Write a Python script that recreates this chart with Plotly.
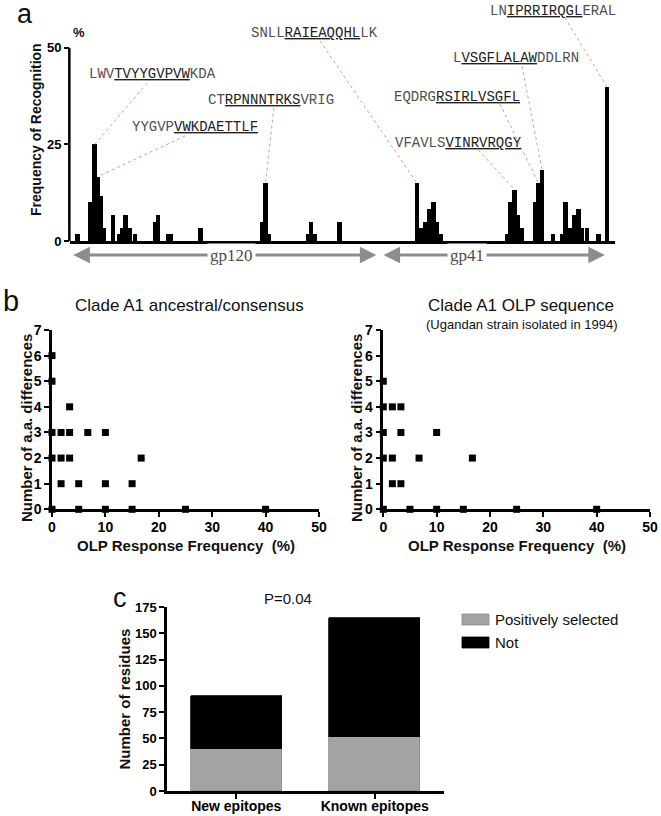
import plotly.graph_objects as go

W, H = 661, 816

# ---------------- Panel a: OLP recognition frequency along Env ----------------
olp_pos = [12, 32, 39, 44, 49, 53, 68, 78, 83, 88, 94, 103, 134, 139, 155, 160, 206,
           303, 309, 314, 376, 381, 387, 426,
           548, 555, 561, 567, 574, 580, 585, 690, 696, 702, 707, 713, 735, 740, 746,
           763, 777, 783, 789, 797, 803, 809, 817, 835, 848]
olp_freq = [1.7, 10, 25, 16.7, 11.7, 3.3, 6.7, 1.7, 3.3, 6.7, 3.3, 1.7, 5, 6.7, 1.7, 1.7, 3.3,
            5, 15, 1.7, 1.7, 5, 1.7, 5,
            15, 3.3, 5, 8.3, 10, 5, 1.7, 1.7, 10, 13.3, 6.7, 3.3, 10, 15, 18.3,
            1.7, 1.7, 10, 3.3, 6.7, 8.3, 3.3, 3.3, 1.7, 40]

# epitope labels: (prefix, underlined, suffix), target OLP position
epi_pre = ["LWV", "YYGVP", "CT", "SNLL", "LN", "L", "EQDRG", "VFAVLS"]
epi_core = ["TVYYGVPVW", "VWKDAETTLF", "RPNNNTRKS", "RAIEAQQHL", "IPRRIRQGL",
            "VSGFLALAW", "RSIRLVSGFL", "VINRVRQGY"]
epi_post = ["KDA", "", "VRIG", "LK", "ERAL", "DDLRN", "", ""]
epi_target = [39, 44, 309, 548, 848, 746, 740, 702]
# label placement (layout positions, in axis units)
lab_x = [131, 197.5, 317.6, 385.5, 763, 705, 611.5, 613]
lab_y = [43.3, 29.5, 36.5, 53.9, 59.6, 47.4, 37.3, 25.4]
lead_x = [122, 182, 322, 395, 782, 714, 679, 645]
lead_y = [40.9, 27.2, 34.5, 51.8, 57.8, 45.3, 35.5, 23.6]

# ---------------- Panel b ----------------
anc_freq = [0, 0, 3.3, 0, 1.7, 3.3, 6.7, 10, 0, 1.7, 3.3, 16.7, 1.7, 5, 10, 15, 0, 5, 10, 15, 25, 40]
anc_diff = [6, 5, 4, 3, 3, 3, 3, 3, 2, 2, 2, 2, 1, 1, 1, 1, 0, 0, 0, 0, 0, 0]
seq_freq = [0, 0, 1.7, 3.3, 0, 3.3, 10, 0, 1.7, 6.7, 16.7, 1.7, 3.3, 0, 5, 10, 15, 25, 40]
seq_diff = [5, 4, 4, 4, 3, 3, 3, 2, 2, 2, 2, 1, 1, 0, 0, 0, 0, 0, 0]

# ---------------- Panel c ----------------
groups = ["New epitopes", "Known epitopes"]
pos_sel = [40, 51]
not_sel = [50, 114]

GRAY = "#a3a3a6"
SANS = "Liberation Sans, Arial, sans-serif"
MONO = "Liberation Mono, Courier New, monospace"
SERIF = "Liberation Serif, Times New Roman, serif"


def px(x):
    return x / W


def py(y):
    return 1 - y / H


fig = go.Figure()
fig.add_trace(go.Bar(x=olp_pos, y=olp_freq, width=7, marker=dict(color="black", line=dict(width=0)),
                     xaxis="x", yaxis="y", showlegend=False))
fig.add_trace(go.Scatter(x=anc_freq, y=anc_diff, mode="markers", cliponaxis=False,
                         marker=dict(symbol="square", size=7, color="black"),
                         xaxis="x2", yaxis="y2", showlegend=False))
fig.add_trace(go.Scatter(x=seq_freq, y=seq_diff, mode="markers", cliponaxis=False,
                         marker=dict(symbol="square", size=7, color="black"),
                         xaxis="x3", yaxis="y3", showlegend=False))
fig.add_trace(go.Bar(x=groups, y=pos_sel, name="Positively selected", width=0.66,
                     marker=dict(color=GRAY, line=dict(color="#8a8a8a", width=0.8)),
                     xaxis="x4", yaxis="y4", showlegend=False))
fig.add_trace(go.Bar(x=groups, y=not_sel, name="Not", width=0.66,
                     marker=dict(color="black", line=dict(color="black", width=0.8)),
                     xaxis="x4", yaxis="y4", showlegend=False))

tickfont13 = dict(family=SANS, size=13, color="black", weight="bold")
tickfont14 = dict(family=SANS, size=14, color="black", weight="bold")
common = dict(showgrid=False, zeroline=False, linecolor="black", tickcolor="black")

layout = dict(
    width=W, height=H, autosize=False,
    margin=dict(l=0, r=0, t=0, b=0, pad=0, autoexpand=False),
    paper_bgcolor="white", plot_bgcolor="white",
    barmode="stack", bargap=0,
    xaxis=dict(domain=[px(70), px(615)], range=[0, 861], showline=True, linewidth=2.5,
               showticklabels=False, ticks="", anchor="y", **common),
    yaxis=dict(domain=[py(241), 1], range=[0, 62.4], showline=False, ticks="outside",
               tickvals=[0, 25, 50], ticklen=5, tickwidth=2, tickfont=tickfont13, anchor="x", **common),
    xaxis2=dict(domain=[px(52), px(319)], range=[0, 50], tickvals=[0, 10, 20, 30, 40, 50],
                ticks="outside", ticklen=5, tickwidth=2, showline=True, linewidth=2.5,
                tickfont=tickfont14, anchor="y2", ticklabelstandoff=-2, **common),
    yaxis2=dict(domain=[py(509.3), py(330)], range=[0, 7], dtick=1, ticks="outside", ticklen=5,
                tickwidth=2, showline=True, linewidth=2.5, tickfont=tickfont14, anchor="x2", **common),
    xaxis3=dict(domain=[px(383.3), px(650)], range=[0, 50], tickvals=[0, 10, 20, 30, 40, 50],
                ticks="outside", ticklen=5, tickwidth=2, showline=True, linewidth=2.5,
                tickfont=tickfont14, anchor="y3", ticklabelstandoff=-2, **common),
    yaxis3=dict(domain=[py(509.3), py(330)], range=[0, 7], dtick=1, ticks="outside", ticklen=5,
                tickwidth=2, showline=True, linewidth=2.5, tickfont=tickfont14, anchor="x3", **common),
    xaxis4=dict(domain=[px(167), px(444)], range=[-0.5, 1.5], ticks="outside", ticklen=5,
                tickwidth=2, showline=True, linewidth=2.5, tickfont=tickfont14, anchor="y4",
                ticklabelstandoff=-5, **common),
    yaxis4=dict(domain=[py(791), py(607)], range=[0, 175], dtick=25, ticks="outside", ticklen=5,
                tickwidth=2, showline=True, linewidth=2.5, tickfont=tickfont13, anchor="x4", **common),
)
fig.update_layout(**layout)

shapes = []
annotations = []


def note(x, y, text, size, bold=False, angle=0, xanchor="center", color="#111", family=SANS):
    f = dict(family=family, size=size, color=color)
    if bold:
        f["weight"] = "bold"
    return dict(x=px(x), y=py(y), xref="paper", yref="paper", text=text, showarrow=False,
                textangle=angle, xanchor=xanchor, yanchor="middle", font=f)


# y-axis line of panel a (0 to 50 only)
shapes.append(dict(type="line", xref="paper", yref="y", x0=px(70) - 0.001, x1=px(70) - 0.001,
                   y0=-0.6, y1=50, line=dict(color="black", width=2.5)))

freq_at = dict(zip(olp_pos, olp_freq))
for i in range(len(epi_core)):
    tgt = epi_target[i]
    shapes.append(dict(type="line", xref="x", yref="y", x0=lead_x[i], y0=lead_y[i],
                       x1=tgt, y1=freq_at[tgt], line=dict(color="#dc9a9a", width=1, dash="dot")))
    txt = (epi_pre[i] + "<span style='color:#222'><u>" + epi_core[i] + "</u></span>"
           + epi_post[i])
    annotations.append(dict(x=lab_x[i], y=lab_y[i], xref="x", yref="y", text=txt, showarrow=False,
                            font=dict(family=MONO, size=14, color="#505050"),
                            xanchor="center", yanchor="middle"))

# gp120 / gp41 arrows
for (a0, a1, lab, lx) in [(3, 484, "gp120", 255.5), (493, 845, "gp41", 627)]:
    annotations.append(dict(x=a1, y=py(255), xref="x", yref="paper", ax=a0, ay=0,
                            axref="x", ayref="pixel", text="", showarrow=True, arrowhead=2,
                            arrowside="end+start", arrowwidth=3, arrowsize=1.1,
                            arrowcolor="#8c8c8c", standoff=0, startstandoff=0))
    annotations.append(dict(x=lx, y=py(255), xref="x", yref="paper", text=lab, showarrow=False,
                            bgcolor="white", borderpad=2, xanchor="center", yanchor="middle",
                            font=dict(family=SERIF, size=17, color="#4d4d4d")))

# panel a texts
annotations += [
    note(25, 14, "a", 27),
    note(79, 33, "%", 13, bold=True),
    note(36, 130, "Frequency of Recognition", 14, bold=True, angle=-90),
]

# panel b texts
annotations += [
    note(10.5, 301, "b", 29),
    note(189.5, 305, "Clade A1 ancestral/consensus", 17),
    note(521, 305, "Clade A1 OLP sequence", 17),
    note(522, 325, "(Ugandan strain isolated in 1994)", 13),
    note(186, 545, "OLP Response Frequency  (%)", 15, bold=True),
    note(517, 545, "OLP Response Frequency  (%)", 15, bold=True),
    note(26, 428, "Number of a.a. differences", 15, bold=True, angle=-90),
    note(356, 428, "Number of a.a. differences", 15, bold=True, angle=-90),
]

# panel c texts + legend
annotations += [
    note(120, 598, "c", 27),
    note(288, 598, "P=0.04", 15),
    note(123.5, 699, "Number of residues", 15, bold=True, angle=-90),
    note(493, 619.5, "Positively selected", 15, xanchor="left"),
    note(493, 642.5, "Not", 15, xanchor="left"),
]
shapes += [
    dict(type="rect", xref="paper", yref="paper", x0=px(462), x1=px(489), y0=py(625), y1=py(614),
         fillcolor=GRAY, line=dict(color="#8a8a8a", width=0.8)),
    dict(type="rect", xref="paper", yref="paper", x0=px(462), x1=px(489), y0=py(648), y1=py(637),
         fillcolor="black", line=dict(color="black", width=0.8)),
]

fig.update_layout(shapes=shapes, annotations=annotations)
fig.write_html("out.html", config={"displayModeBar": False},
               post_script="document.body.style.margin='0px';")
